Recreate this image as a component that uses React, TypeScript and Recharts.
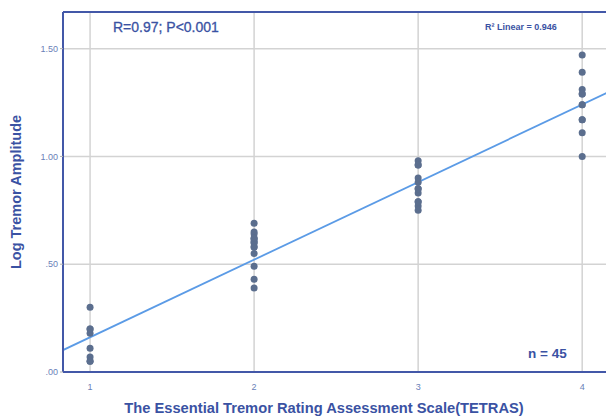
import React from 'react';
import {
  ComposedChart,
  Scatter,
  XAxis,
  YAxis,
  CartesianGrid,
  ReferenceLine,
} from 'recharts';

// tetras score groups and log tremor amplitude
const score1 = [0.3, 0.2, 0.18, 0.11, 0.07, 0.05, 0.05, 0.2];
const score2 = [0.69, 0.65, 0.64, 0.62, 0.61, 0.6, 0.58, 0.55, 0.49, 0.43, 0.39, 0.6, 0.62, 0.58];
const score3 = [0.98, 0.96, 0.9, 0.88, 0.85, 0.83, 0.79, 0.77, 0.75, 0.96, 0.85, 0.79];
const score4 = [1.47, 1.39, 1.31, 1.29, 1.24, 1.17, 1.11, 1.0, 1.29, 1.24, 1.17];

const xTicks = [1, 2, 3, 4];
const yTicks = [0, 0.5, 1, 1.5];

// linear fit (R² = 0.946)
const fitIntercept = -0.199;
const fitSlope = 0.36;

const xDomain: [number, number] = [0.835, 4.2];
const yDomain: [number, number] = [0, 1.67];

const colors = {
  frame: '#4358a8',
  text: '#3a52a3',
  tick: '#6a7fb8',
  grid: '#d3d3d3',
  dot: '#5b6e8e',
  fit: '#5b9be6',
};

const points = [
  ...score1.map((y) => ({ x: 1, y })),
  ...score2.map((y) => ({ x: 2, y })),
  ...score3.map((y) => ({ x: 3, y })),
  ...score4.map((y) => ({ x: 4, y })),
];

const fmtY = (v: number) => v.toFixed(2).replace(/^0/, '');

const font = '"Liberation Sans", Arial, sans-serif';

export default function App() {
  return (
    <div
      style={{
        position: 'fixed',
        left: 0,
        top: 0,
        width: 606,
        height: 417,
        overflow: 'hidden',
        background: '#fff',
        fontFamily: font,
      }}
    >
      <ComposedChart
        width={625}
        height={417}
        data={points}
        margin={{ top: 12, right: 10, left: 0, bottom: 0 }}
      >
        <CartesianGrid stroke={colors.grid} strokeWidth={1.5} />
        <XAxis
          type="number"
          dataKey="x"
          domain={xDomain}
          ticks={xTicks}
          allowDataOverflow
          height={45}
          stroke={colors.frame}
          axisLine={{ stroke: colors.frame, strokeWidth: 2 }}
          tickLine={false}
          tick={{ fill: colors.tick, fontSize: 9, fontFamily: font }}
          tickMargin={6}
        />
        <YAxis
          type="number"
          dataKey="y"
          domain={yDomain}
          ticks={yTicks}
          allowDataOverflow
          width={63}
          tickFormatter={fmtY}
          axisLine={{ stroke: colors.frame, strokeWidth: 2 }}
          tickLine={{ stroke: '#b0b0b0' }}
          tickSize={3}
          tick={{ fill: colors.tick, fontSize: 9, fontFamily: font }}
          tickMargin={2}
        />
        <ReferenceLine y={yDomain[1]} stroke={colors.frame} strokeWidth={2} />
        <ReferenceLine
          segment={[
            { x: xDomain[0], y: fitIntercept + fitSlope * xDomain[0] },
            { x: xDomain[1], y: fitIntercept + fitSlope * xDomain[1] },
          ]}
          stroke={colors.fit}
          strokeWidth={1.8}
          ifOverflow="hidden"
        />
        <Scatter
          dataKey="y"
          fill={colors.dot}
          isAnimationActive={false}
          shape={(p: any) => <circle cx={p.cx} cy={p.cy} r={3.5} fill={colors.dot} />}
        />
      </ComposedChart>

      <div style={{ position: 'absolute', left: 113, top: 19, fontSize: 14, color: colors.text, whiteSpace: 'nowrap', WebkitTextStroke: '0.3px ' + colors.text }}>
        R=0.97; P&lt;0.001
      </div>
      <div style={{ position: 'absolute', left: 485, top: 22, fontSize: 9, fontWeight: 'bold', color: colors.text, whiteSpace: 'nowrap' }}>
        R² Linear = 0.946
      </div>
      <div style={{ position: 'absolute', left: 528, top: 346, fontSize: 13.5, fontWeight: 'bold', color: colors.text, whiteSpace: 'nowrap' }}>
        n = 45
      </div>
      <div
        style={{
          position: 'absolute',
          left: 16,
          top: 192,
          transform: 'translate(-50%, -50%) rotate(-90deg)',
          fontSize: 14.5,
          fontWeight: 'bold',
          color: colors.text,
          whiteSpace: 'nowrap',
        }}
      >
        Log Tremor Amplitude
      </div>
      <div
        style={{
          position: 'absolute',
          left: 324,
          top: 408,
          transform: 'translate(-50%, -50%)',
          fontSize: 14.7,
          fontWeight: 'bold',
          color: colors.text,
          whiteSpace: 'nowrap',
        }}
      >
        The Essential Tremor Rating Assessment Scale(TETRAS)
      </div>
    </div>
  );
}
